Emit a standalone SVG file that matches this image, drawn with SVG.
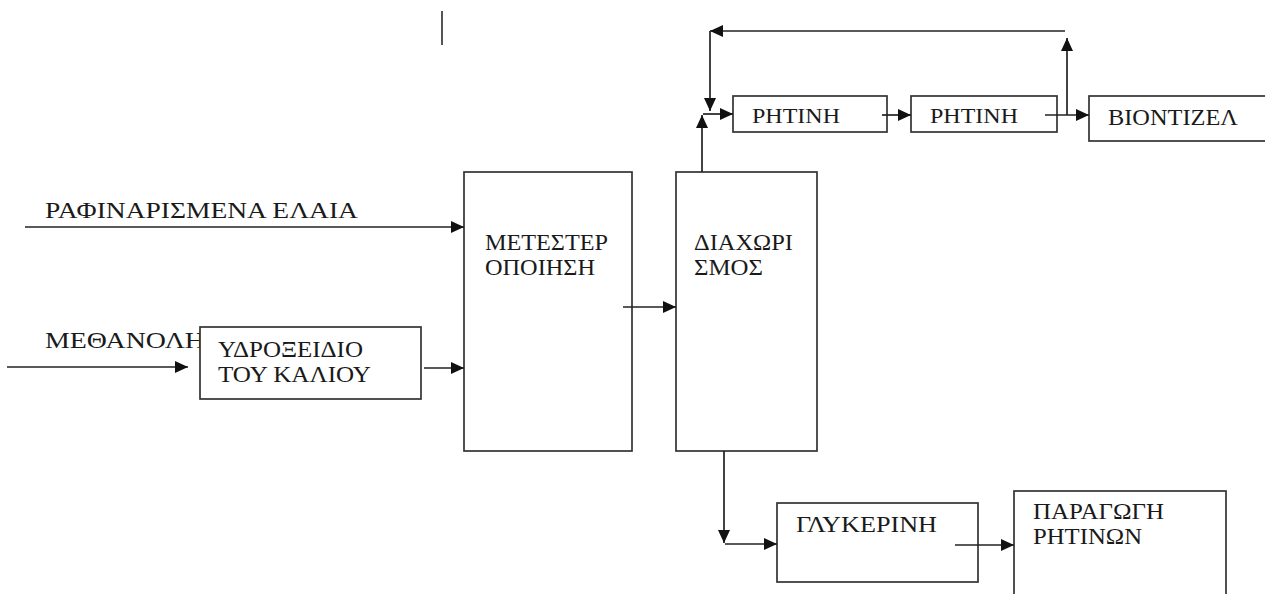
<svg xmlns="http://www.w3.org/2000/svg" width="1265" height="594" viewBox="0 0 1265 594">
<style>
.box{fill:#fff;stroke:#333;stroke-width:1.7}
.ln{fill:none;stroke:#222;stroke-width:1.7}
.t{font-family:"Liberation Serif","Times New Roman","DejaVu Serif",serif;font-size:23px;fill:#1a1a1a}
.s{font-size:21px}
</style>
<defs>
<marker id="ah" markerUnits="userSpaceOnUse" markerWidth="14" markerHeight="12" refX="13" refY="6" orient="auto">
<path d="M0,0 L13,6 L0,12 Z" fill="#111"/>
</marker>
</defs>
<rect width="1265" height="594" fill="#fff"/>
<line x1="442" y1="11" x2="442" y2="45" stroke="#555" stroke-width="2"/>
<g id="n_metester"><rect class="box" x="464" y="172" width="168" height="279"/>
<text class="t" x="485" y="250" textLength="123" lengthAdjust="spacingAndGlyphs">ΜΕΤΕΣΤΕΡ</text>
<text class="t" x="485" y="275" textLength="110" lengthAdjust="spacingAndGlyphs">ΟΠΟΙΗΣΗ</text></g>
<g id="n_diaxorismos"><rect class="box" x="676" y="172" width="141" height="279"/>
<text class="t" x="694" y="250" textLength="99" lengthAdjust="spacingAndGlyphs">ΔΙΑΧΩΡΙ</text>
<text class="t" x="694" y="275" textLength="69" lengthAdjust="spacingAndGlyphs">ΣΜΟΣ</text></g>
<g id="n_methanoli"><text class="t" x="45" y="348" textLength="160" lengthAdjust="spacingAndGlyphs">ΜΕΘΑΝΟΛΗ</text></g>
<g id="n_elaia"><text class="t" x="45" y="218" textLength="313" lengthAdjust="spacingAndGlyphs">ΡΑΦΙΝΑΡΙΣΜΕΝΑ ΕΛΑΙΑ</text></g>
<g id="n_ydroxeidio"><rect class="box" x="200" y="327" width="221" height="72"/>
<text class="t" x="218" y="357" textLength="145" lengthAdjust="spacingAndGlyphs">ΥΔΡΟΞΕΙΔΙΟ</text>
<text class="t" x="218" y="382" textLength="153" lengthAdjust="spacingAndGlyphs">ΤΟΥ ΚΑΛΙΟΥ</text></g>
<g id="n_ritini1"><rect class="box" x="733" y="96" width="154" height="36"/>
<text class="t s" x="752" y="123" textLength="88" lengthAdjust="spacingAndGlyphs">ΡΗΤΙΝΗ</text></g>
<g id="n_ritini2"><rect class="box" x="911" y="96" width="146" height="36"/>
<text class="t s" x="930" y="123" textLength="88" lengthAdjust="spacingAndGlyphs">ΡΗΤΙΝΗ</text></g>
<g id="n_biodiesel"><rect class="box" x="1089" y="96" width="200" height="45"/>
<text class="t" x="1108" y="125" textLength="130" lengthAdjust="spacingAndGlyphs">ΒΙΟΝΤΙΖΕΛ</text></g>
<g id="n_glykerini"><rect class="box" x="777" y="503" width="201" height="79"/>
<text class="t" x="796" y="532" textLength="141" lengthAdjust="spacingAndGlyphs">ΓΛΥΚΕΡΙΝΗ</text></g>
<g id="n_paragogi"><rect class="box" x="1014" y="491" width="212" height="120"/>
<text class="t" x="1033" y="519" textLength="131" lengthAdjust="spacingAndGlyphs">ΠΑΡΑΓΩΓΗ</text>
<text class="t" x="1033" y="544" textLength="109" lengthAdjust="spacingAndGlyphs">ΡΗΤΙΝΩΝ</text></g>
<g id="connectors">
<line class="ln" x1="25" y1="227" x2="464" y2="227" marker-end="url(#ah)"/>
<line class="ln" x1="7" y1="367" x2="188" y2="367" marker-end="url(#ah)"/>
<line class="ln" x1="424" y1="368" x2="464" y2="368" marker-end="url(#ah)"/>
<line class="ln" x1="623" y1="307" x2="676" y2="307" marker-end="url(#ah)"/>
<line class="ln" x1="702" y1="172" x2="702" y2="115" marker-end="url(#ah)"/>
<line class="ln" x1="703" y1="114" x2="733" y2="114" marker-end="url(#ah)"/>
<line class="ln" x1="1065" y1="31" x2="710" y2="31" marker-end="url(#ah)"/>
<line class="ln" x1="710" y1="31" x2="710" y2="111" marker-end="url(#ah)"/>
<line class="ln" x1="882" y1="115" x2="911" y2="115" marker-end="url(#ah)"/>
<line class="ln" x1="1045" y1="115" x2="1089" y2="115" marker-end="url(#ah)"/>
<line class="ln" x1="1067" y1="115" x2="1067" y2="38" marker-end="url(#ah)"/>
<line class="ln" x1="724" y1="451" x2="724" y2="543" marker-end="url(#ah)"/>
<line class="ln" x1="725" y1="544" x2="777" y2="544" marker-end="url(#ah)"/>
<line class="ln" x1="955" y1="545" x2="1014" y2="545" marker-end="url(#ah)"/>
</g>
</svg>
